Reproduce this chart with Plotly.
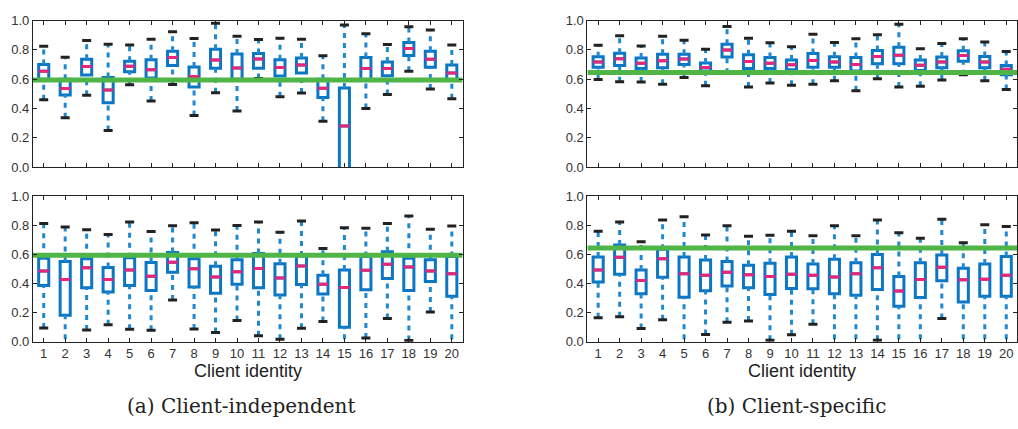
import plotly.graph_objects as go

# ---------------- data ----------------
clients = list(range(1, 21))
tick_labels = [str(c) for c in clients]

# (a) Client-independent, top panel
a_top_lower = [0.46, 0.337, 0.491, 0.251, 0.562, 0.452, 0.564, 0.352, 0.507, 0.383, 0.605, 0.48, 0.506, 0.313, -0.3, 0.40, 0.496, 0.654, 0.533, 0.467]
a_top_q1 = [0.60, 0.493, 0.628, 0.44, 0.65, 0.608, 0.694, 0.546, 0.674, 0.60, 0.675, 0.622, 0.643, 0.475, -0.2, 0.595, 0.623, 0.762, 0.681, 0.595]
a_top_med = [0.654, 0.537, 0.687, 0.526, 0.689, 0.665, 0.747, 0.619, 0.731, 0.677, 0.737, 0.68, 0.697, 0.539, 0.28, 0.672, 0.672, 0.81, 0.736, 0.643]
a_top_q3 = [0.70, 0.60, 0.736, 0.612, 0.722, 0.733, 0.791, 0.683, 0.804, 0.771, 0.775, 0.732, 0.744, 0.60, 0.54, 0.747, 0.718, 0.85, 0.791, 0.696]
a_top_upper = [0.824, 0.749, 0.863, 0.839, 0.833, 0.872, 0.923, 0.877, 0.982, 0.892, 0.87, 0.879, 0.872, 0.76, 0.969, 0.91, 0.837, 0.958, 0.936, 0.833]

# (a) Client-independent, bottom panel
a_bot_lower = [0.095, -0.05, 0.082, 0.117, 0.086, 0.079, 0.287, 0.088, 0.064, 0.146, 0.042, 0.018, 0.093, 0.139, -0.05, 0.026, 0.161, 0.009, 0.205, -0.05]
a_bot_q1 = [0.386, 0.183, 0.371, 0.342, 0.386, 0.353, 0.477, 0.377, 0.333, 0.395, 0.371, 0.322, 0.393, 0.329, 0.10, 0.358, 0.435, 0.353, 0.415, 0.313]
a_bot_med = [0.486, 0.428, 0.508, 0.428, 0.494, 0.45, 0.547, 0.501, 0.446, 0.481, 0.503, 0.439, 0.521, 0.395, 0.373, 0.492, 0.532, 0.514, 0.486, 0.468]
a_bot_q3 = [0.574, 0.552, 0.57, 0.51, 0.578, 0.545, 0.614, 0.57, 0.519, 0.563, 0.607, 0.536, 0.59, 0.457, 0.494, 0.585, 0.618, 0.574, 0.563, 0.585]
a_bot_upper = [0.812, 0.788, 0.77, 0.737, 0.823, 0.757, 0.797, 0.817, 0.768, 0.799, 0.823, 0.753, 0.83, 0.64, 0.784, 0.779, 0.812, 0.863, 0.773, 0.795]

# (b) Client-specific, top panel
b_top_lower = [0.598, 0.583, 0.581, 0.565, 0.611, 0.556, 0.64, 0.547, 0.574, 0.558, 0.565, 0.589, 0.521, 0.603, 0.547, 0.552, 0.594, 0.631, 0.589, 0.53]
b_top_q1 = [0.682, 0.693, 0.673, 0.678, 0.70, 0.655, 0.751, 0.673, 0.673, 0.664, 0.682, 0.682, 0.656, 0.706, 0.706, 0.66, 0.678, 0.722, 0.678, 0.63]
b_top_med = [0.717, 0.74, 0.709, 0.726, 0.737, 0.68, 0.799, 0.72, 0.709, 0.698, 0.728, 0.717, 0.70, 0.755, 0.764, 0.695, 0.717, 0.762, 0.717, 0.667]
b_top_q3 = [0.753, 0.777, 0.744, 0.77, 0.77, 0.711, 0.839, 0.766, 0.748, 0.731, 0.775, 0.753, 0.748, 0.795, 0.817, 0.731, 0.751, 0.793, 0.755, 0.693]
b_top_upper = [0.832, 0.896, 0.826, 0.892, 0.865, 0.804, 0.96, 0.879, 0.848, 0.821, 0.907, 0.85, 0.876, 0.903, 0.974, 0.808, 0.843, 0.876, 0.854, 0.788]

# (b) Client-specific, bottom panel
b_bot_lower = [0.166, 0.172, 0.091, 0.152, -0.05, 0.051, 0.135, 0.143, 0.011, 0.049, 0.121, -0.05, -0.05, 0.011, -0.05, -0.05, 0.161, -0.05, -0.05, -0.05]
b_bot_q1 = [0.411, 0.464, 0.331, 0.444, 0.307, 0.351, 0.384, 0.371, 0.325, 0.366, 0.364, 0.331, 0.32, 0.36, 0.245, 0.305, 0.419, 0.274, 0.313, 0.313]
b_bot_med = [0.494, 0.581, 0.422, 0.57, 0.468, 0.457, 0.477, 0.461, 0.448, 0.464, 0.457, 0.446, 0.468, 0.508, 0.349, 0.428, 0.512, 0.426, 0.43, 0.457]
b_bot_q3 = [0.583, 0.665, 0.494, 0.635, 0.583, 0.561, 0.552, 0.525, 0.539, 0.583, 0.534, 0.567, 0.543, 0.60, 0.448, 0.543, 0.596, 0.506, 0.534, 0.585]
b_bot_upper = [0.759, 0.823, 0.687, 0.837, 0.859, 0.733, 0.797, 0.724, 0.731, 0.759, 0.728, 0.797, 0.728, 0.837, 0.748, 0.711, 0.841, 0.68, 0.804, 0.792]

# reference (green) levels
a_reference = 0.595
b_reference = 0.645

y_ticks = [0.0, 0.2, 0.4, 0.6, 0.8, 1.0]
y_tick_labels = ["0.0", "0.2", "0.4", "0.6", "0.8", "1.0"]

x_title = "Client identity"
caption_a = "(a) Client-independent"
caption_b = "(b) Client-specific"

# ---------------- style ----------------
BLUE = "#0B76C4"
WHISK = "#1E88D2"
PINK = "#EC2479"
GREEN = "#50B547"
CAP = "#222222"
AXIS = "#222222"
TXT = "#333333"
FONT = "Liberation Sans, Arial, sans-serif"

BOX_W = 0.47
CAP_HALF = 0.21

W, H = 1018, 429
def px_x(a, b):
    return [a / W, min(b / W, 1.0)]
def px_y(top, bottom):
    return [1 - bottom / H, 1 - top / H]

panels = [
    ("x", "y", px_x(33, 463), px_y(14, 166),
     (a_top_lower, a_top_q1, a_top_med, a_top_q3, a_top_upper), a_reference, False),
    ("x2", "y2", px_x(33, 463), px_y(196, 347),
     (a_bot_lower, a_bot_q1, a_bot_med, a_bot_q3, a_bot_upper), a_reference, True),
    ("x3", "y3", px_x(588, 1018), px_y(14, 166),
     (b_top_lower, b_top_q1, b_top_med, b_top_q3, b_top_upper), b_reference, False),
    ("x4", "y4", px_x(588, 1018), px_y(196, 347),
     (b_bot_lower, b_bot_q1, b_bot_med, b_bot_q3, b_bot_upper), b_reference, True),
]

fig = go.Figure()
layout = {}

for xa, ya, xdom, ydom, (lo, q1, med, q3, up), ref, show_x in panels:
    # whiskers (dashed)
    wx, wy = [], []
    for c, l, a, b, u in zip(clients, lo, q1, q3, up):
        wx += [c, c, None, c, c, None]
        wy += [b, u, None, l, a, None]
    fig.add_trace(go.Scatter(x=wx, y=wy, mode="lines", xaxis=xa, yaxis=ya,
                             line=dict(color=WHISK, width=3, dash="5px,5px"),
                             showlegend=False, hoverinfo="skip"))
    # caps
    cx, cy = [], []
    for c, l, u in zip(clients, lo, up):
        cx += [c - CAP_HALF, c + CAP_HALF, None, c - CAP_HALF, c + CAP_HALF, None]
        cy += [u, u, None, l, l, None]
    fig.add_trace(go.Scatter(x=cx, y=cy, mode="lines", xaxis=xa, yaxis=ya,
                             line=dict(color=CAP, width=3),
                             showlegend=False, hoverinfo="skip"))
    # boxes
    fig.add_trace(go.Box(x=clients, q1=q1, median=med, q3=q3,
                         lowerfence=q1, upperfence=q3,
                         xaxis=xa, yaxis=ya, width=BOX_W, whiskerwidth=0,
                         boxpoints=False, line=dict(color=BLUE, width=3),
                         fillcolor="rgba(255,255,255,0)", showlegend=False,
                         hoverinfo="skip"))
    # medians
    mx, my = [], []
    for c, m in zip(clients, med):
        mx += [c - BOX_W / 2, c + BOX_W / 2, None]
        my += [m, m, None]
    fig.add_trace(go.Scatter(x=mx, y=my, mode="lines", xaxis=xa, yaxis=ya,
                             line=dict(color=PINK, width=3),
                             showlegend=False, hoverinfo="skip"))
    # reference line
    fig.add_trace(go.Scatter(x=[0.5, 20.5], y=[ref, ref], mode="lines",
                             xaxis=xa, yaxis=ya,
                             line=dict(color=GREEN, width=5),
                             showlegend=False, hoverinfo="skip"))

    xkey = "xaxis" + xa[1:]
    ykey = "yaxis" + ya[1:]
    layout[xkey] = dict(domain=xdom, anchor=ya, range=[0.5, 20.5],
                        tickmode="array", tickvals=clients,
                        ticktext=tick_labels if show_x else [""] * 20,
                        showticklabels=show_x,
                        ticks="inside", ticklen=4, tickwidth=1, tickcolor=AXIS,
                        showline=True, linecolor=AXIS, linewidth=1,
                        mirror="ticks", showgrid=False, zeroline=False,
                        tickfont=dict(family=FONT, size=13, color=TXT))
    layout[ykey] = dict(domain=ydom, anchor=xa, range=[0, 1],
                        tickmode="array", tickvals=y_ticks, ticktext=y_tick_labels,
                        ticks="inside", ticklen=4, tickwidth=1, tickcolor=AXIS,
                        showline=True, linecolor=AXIS, linewidth=1,
                        mirror="ticks", showgrid=False, zeroline=False,
                        tickfont=dict(family=FONT, size=13, color=TXT))

annotations = [
    dict(text=x_title, x=248 / W, y=1 - 377 / H, xref="paper", yref="paper",
         xanchor="center", yanchor="middle", showarrow=False,
         font=dict(family=FONT, size=18, color="#222222")),
    dict(text=x_title, x=803 / W, y=1 - 377 / H, xref="paper", yref="paper",
         xanchor="center", yanchor="middle", showarrow=False,
         font=dict(family=FONT, size=18, color="#222222")),
    dict(text=caption_a, x=241.5 / W, y=1 - 413 / H, xref="paper", yref="paper",
         xanchor="center", yanchor="middle", showarrow=False,
         font=dict(family="DejaVu Serif, serif", size=20, color="#222222")),
    dict(text=caption_b, x=797 / W, y=1 - 413 / H, xref="paper", yref="paper",
         xanchor="center", yanchor="middle", showarrow=False,
         font=dict(family="DejaVu Serif, serif", size=20, color="#222222")),
]

fig.update_layout(width=W, height=H, margin=dict(l=0, r=0, t=0, b=0),
                  paper_bgcolor="white", plot_bgcolor="white",
                  showlegend=False, annotations=annotations, **layout)

fig.write_html("out.html",
               config={"displayModeBar": False},
               post_script="document.body.style.margin='0px';"
                           "document.body.style.padding='0px';"
                           "document.body.style.overflow='hidden';")
